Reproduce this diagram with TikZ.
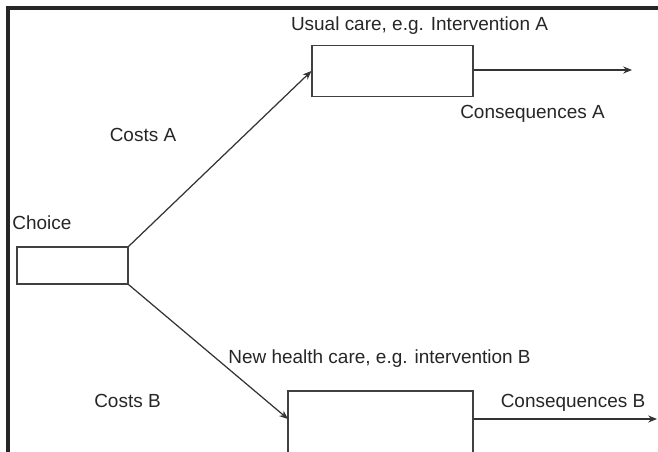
\documentclass[tikz,border=0pt]{standalone}
\usepackage{fontspec}
\setmainfont{Liberation Sans}
\usepackage{tikz}
\usetikzlibrary{arrows.meta}

\tikzset{
  box/.style={draw=black!75, line width=0.7pt, rectangle, inner sep=0pt},
  lbl/.style={inner sep=0pt, anchor=base, text=black!85, font=\fontsize{10.8}{12}\selectfont},
  flow/.style={draw=black!80, line width=0.7pt, -{Stealth[length=5pt,width=4pt]}}
}

\begin{document}
\begin{tikzpicture}[x=0.02cm, y=-0.02cm]
    % frame of the page
    \useasboundingbox (0,0) rectangle (658,452);
    \clip (0,0) rectangle (658,452);
    \draw[black!85, line width=2.3pt] (8,460) -- (8,8) -- (666,8);

    % draw boxes
    \node[box, minimum width=2.22cm, minimum height=0.74cm] (choice) at (72.5,265.5) {};
    \node[box, minimum width=3.22cm, minimum height=1.02cm] (usual) at (392.5,71) {};
    \node[box, minimum width=3.70cm, minimum height=1.58cm] (newcare) at (380.5,430.5) {};

    % loose ends
    \coordinate (inB) at (288,419);
    \coordinate (endA) at (632,70);
    \coordinate (endB) at (657,419);

    % draw arrows
    \draw[flow] (choice.north east) -- (usual.west);
    \draw[flow] (choice.south east) -- (inB);
    \draw[flow] (usual.east |- endA) -- (endA);
    \draw[flow] (newcare.east |- inB) -- (endB);

    % draw labels
    \node[lbl, anchor=base west] (lchoice) at (12,230) {Choice};
    \node[lbl] (lusual) at (419.5,31) {Usual care, e.g. Intervention A};
    \node[lbl] (lconsA) at (532.5,119) {Consequences A};
    \node[lbl] (lcostsA) at (143,142) {Costs A};
    \node[lbl] (lnew) at (379.5,363) {New health care, e.g. intervention B};
    \node[lbl] (lcostsB) at (127.5,407) {Costs B};
    \node[lbl] (lconsB) at (573,407) {Consequences B};

\end{tikzpicture}
\end{document}
